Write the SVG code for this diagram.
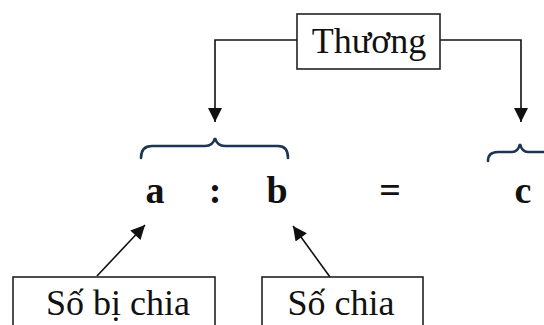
<svg xmlns="http://www.w3.org/2000/svg" width="544" height="325" viewBox="0 0 544 325">
<style>
.box{fill:#fff;stroke:#222;stroke-width:1.6}
.lbl{font-family:"Liberation Serif","Times New Roman",serif;font-size:36px;fill:#111}
.math{font-family:"Liberation Serif","Times New Roman",serif;font-size:38px;font-weight:bold;fill:#111}
.con{fill:none;stroke:#111;stroke-width:1.6}
.brace{fill:none;stroke:#1c3550;stroke-width:2.6;stroke-linecap:round}
</style>
<defs>
<marker id="ahd" viewBox="0 0 10 10" refX="10" refY="5" markerWidth="16" markerHeight="14" markerUnits="userSpaceOnUse" orient="auto">
<path d="M0,0 L10,5 L0,10 z" fill="#111"/>
</marker>
</defs>
<g id="connectors">
<path class="con" d="M297,40 H215 V122" marker-end="url(#ahd)"/>
<path class="con" d="M440,40 H521 V122" marker-end="url(#ahd)"/>
<path class="con" d="M97,276 L145,225" marker-end="url(#ahd)"/>
<path class="con" d="M330,277 L293,226" marker-end="url(#ahd)"/>
</g>
<g id="thuong">
<rect class="box" x="297" y="14" width="143" height="55"/>
<text class="lbl" x="369" y="53" text-anchor="middle">Thương</text>
</g>
<g id="braces">
<path class="brace" d="M141,158 Q141,146 152,146 L205,146 Q213,146 215,138 Q217,146 225,146 L278,146 Q288,146 288,158"/>
<path class="brace" d="M488,161 Q488,152 498,152 L512,152 Q518,152 520,144 Q522,152 528,152 L560,152"/>
</g>
<g id="math">
<text class="math" x="155" y="203" text-anchor="middle">a</text>
<text class="math" x="215" y="203" text-anchor="middle">:</text>
<text class="math" x="277" y="203" text-anchor="middle">b</text>
<text class="math" x="390" y="203" text-anchor="middle">=</text>
<text class="math" x="523" y="203" text-anchor="middle">c</text>
</g>
<g id="so-bi-chia">
<rect class="box" x="13" y="277" width="202" height="60"/>
<text class="lbl" x="118" y="315" text-anchor="middle">Số bị chia</text>
</g>
<g id="so-chia">
<rect class="box" x="262" y="277" width="161" height="60"/>
<text class="lbl" x="341" y="315" text-anchor="middle">Số chia</text>
</g>
</svg>
